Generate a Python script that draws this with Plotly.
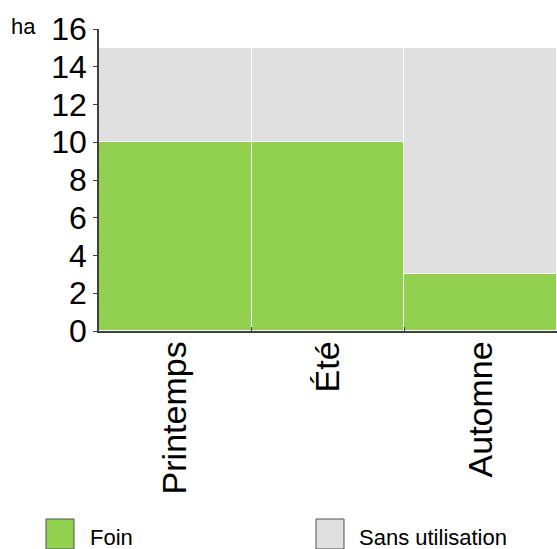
import plotly.graph_objects as go

# Data
seasons = ["Printemps", "Été", "Automne"]
foin = [10, 10, 3]
sans_utilisation = [5, 5, 12]
y_ticks = [0, 2, 4, 6, 8, 10, 12, 14, 16]

GREEN = "#92D050"
GREY = "#E0E0E0"
AXIS = "#404040"
FONT = "Liberation Sans, Arial, sans-serif"

W, H = 557, 549
PLOT_L, PLOT_R, PLOT_T, PLOT_B = 99, 557, 29, 331   # plot area in pixels
L, R, T, B = PLOT_L, W - PLOT_R, PLOT_T, H - PLOT_B


# convert pixel position to paper coordinates (legend / unit label)
def px_x(x):
    return (x - PLOT_L) / (PLOT_R - PLOT_L)


def px_y(y):
    return (PLOT_B - y) / (PLOT_B - PLOT_T)


fig = go.Figure()
fig.add_trace(go.Bar(
    x=seasons, y=foin, name="Foin",
    marker=dict(color=GREEN, line=dict(color="white", width=1.5)),
))
fig.add_trace(go.Bar(
    x=seasons, y=sans_utilisation, name="Sans utilisation",
    marker=dict(color=GREY, line=dict(color="white", width=1.5)),
))

fig.update_layout(
    width=W, height=H,
    margin=dict(l=L, r=R, t=T, b=B, pad=0),
    barmode="stack", bargap=0,
    showlegend=False,
    paper_bgcolor="white", plot_bgcolor="white",
    font=dict(family=FONT, color="black"),
)
fig.update_yaxes(
    range=[0, 16], tickvals=y_ticks, showgrid=False, zeroline=False,
    showline=True, linecolor=AXIS, linewidth=1.5,
    ticks="outside", ticklen=4, tickcolor=AXIS,
    tickfont=dict(size=32, family=FONT),
)
fig.update_xaxes(
    showgrid=False, showline=True, linecolor=AXIS, linewidth=1.5,
    ticks="inside", tickson="boundaries", ticklen=4, tickcolor=AXIS,
    tickangle=-90, tickfont=dict(size=34, family=FONT),
    ticklabelstandoff=-5,
)

# unit label
fig.add_annotation(
    x=px_x(9), y=px_y(26), xref="paper", yref="paper",
    text="ha", showarrow=False, xanchor="left", yanchor="middle",
    font=dict(size=22, family=FONT),
)

# custom legend with large swatches
legend_items = [("Foin", GREEN, 46, 88), ("Sans utilisation", GREY, 316, 357)]
for label, color, sx, tx in legend_items:
    fig.add_shape(
        type="rect", xref="paper", yref="paper",
        x0=px_x(sx), x1=px_x(sx + 28), y0=px_y(519), y1=px_y(549),
        fillcolor=color, line=dict(color="#505050", width=1),
    )
    fig.add_annotation(
        x=px_x(tx), y=px_y(537), xref="paper", yref="paper",
        text=label, showarrow=False, xanchor="left", yanchor="middle",
        font=dict(size=22, family=FONT),
    )

# drop the default body margin so the figure fills the window exactly
fig.write_html(
    "out.html",
    config={"displayModeBar": False},
    post_script="document.body.style.margin='0';document.body.style.overflow='hidden';",
)
